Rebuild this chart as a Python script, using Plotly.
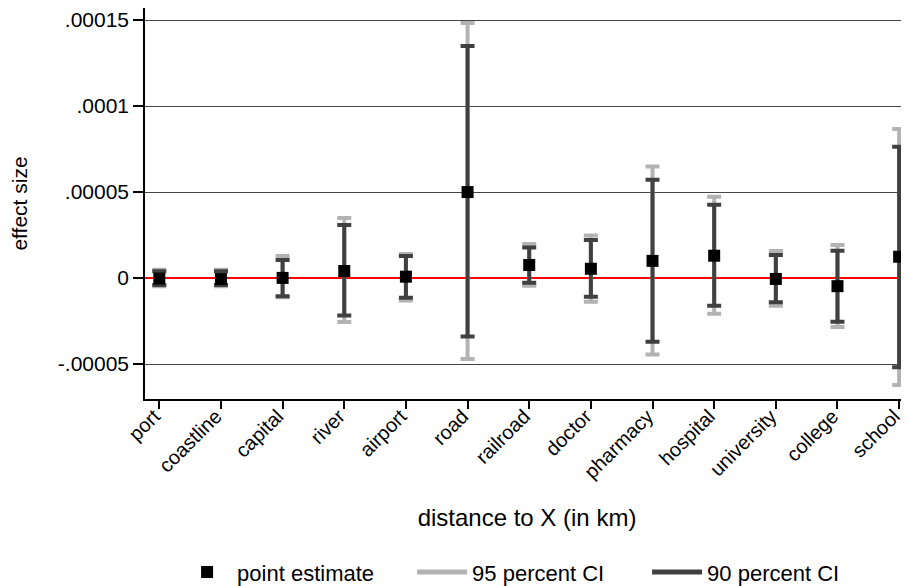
import plotly.graph_objects as go

categories = ["port", "coastline", "capital", "river", "airport", "road", "railroad",
              "doctor", "pharmacy", "hospital", "university", "college", "school"]
point_est = [-0.3e-6, -0.6e-6, 0.1e-6, 4.1e-6, 0.8e-6, 5.0e-5, 7.6e-6,
             5.4e-6, 1.0e-5, 1.3e-5, -0.5e-6, -4.7e-6, 1.24e-5]
ci95_lo = [-4.8e-6, -4.8e-6, -1.12e-5, -2.56e-5, -1.3e-5, -4.71e-5, -4.5e-6,
           -1.38e-5, -4.44e-5, -2.07e-5, -1.61e-5, -2.85e-5, -6.22e-5]
ci95_hi = [4.8e-6, 4.8e-6, 1.28e-5, 3.49e-5, 1.4e-5, 1.483e-4, 1.98e-5,
           2.48e-5, 6.49e-5, 4.73e-5, 1.57e-5, 1.92e-5, 8.66e-5]
ci90_lo = [-4.0e-6, -4.0e-6, -1.05e-5, -2.17e-5, -1.14e-5, -3.39e-5, -2.7e-6,
           -1.09e-5, -3.7e-5, -1.61e-5, -1.41e-5, -2.54e-5, -5.19e-5]
ci90_hi = [4.0e-6, 4.0e-6, 1.05e-5, 3.08e-5, 1.28e-5, 1.349e-4, 1.78e-5,
           2.21e-5, 5.72e-5, 4.26e-5, 1.34e-5, 1.59e-5, 7.64e-5]
ytick_vals = [-0.00005, 0, 0.00005, 0.0001, 0.00015]
ytick_text = ["-.00005", "0", ".00005", ".0001", ".00015"]

C95 = "#b3b3b3"
C90 = "#404040"
FONT = "Liberation Sans, Arial, sans-serif"

fig = go.Figure()


def err(hi, lo):
    up = [h - p for h, p in zip(hi, point_est)]
    dn = [p - l for p, l in zip(point_est, lo)]
    return up, dn


up95, dn95 = err(ci95_hi, ci95_lo)
up90, dn90 = err(ci90_hi, ci90_lo)

fig.add_trace(go.Scatter(
    x=categories, y=point_est, mode="markers",
    marker=dict(size=1, color="rgba(0,0,0,0)"),
    error_y=dict(type="data", symmetric=False, array=up95, arrayminus=dn95,
                 color=C95, thickness=4, width=7),
    showlegend=False, hoverinfo="skip"))
fig.add_trace(go.Scatter(
    x=categories, y=point_est, mode="markers",
    marker=dict(size=1, color="rgba(0,0,0,0)"),
    error_y=dict(type="data", symmetric=False, array=up90, arrayminus=dn90,
                 color=C90, thickness=4, width=7),
    showlegend=False, hoverinfo="skip"))
fig.add_trace(go.Scatter(
    x=categories, y=point_est, mode="markers", name="point estimate",
    marker=dict(symbol="square", size=12, color="black"),
    legendrank=1))
fig.add_trace(go.Scatter(
    x=[None], y=[None], mode="lines", name="95 percent CI",
    line=dict(color=C95, width=5), legendrank=2))
fig.add_trace(go.Scatter(
    x=[None], y=[None], mode="lines", name="90 percent CI",
    line=dict(color=C90, width=5), legendrank=3))

# The page places the figure 8px in from the top-left corner, so the figure
# is sized 8px smaller to fill the 909x586 window.
fig.update_layout(
    width=901, height=578,
    margin=dict(l=137, r=0, t=0, b=187),
    paper_bgcolor="white", plot_bgcolor="white",
    font=dict(family=FONT, size=21, color="black"),
    showlegend=True,
    legend=dict(orientation="h", x=0.042, xanchor="left", xref="paper",
                y=0.024, yanchor="middle", yref="container",
                font=dict(size=22), entrywidth=170, entrywidthmode="pixels",
                itemwidth=50, tracegroupgap=0),
    xaxis=dict(
        type="category", categoryorder="array", categoryarray=categories,
        range=[-0.232, 12.16], automargin=False,
        showline=True, linecolor="black", linewidth=1.5,
        ticks="outside", ticklen=8, tickcolor="black", tickwidth=1.5,
        tickangle=-45, tickfont=dict(size=20), ticklabelstandoff=-12,
        ticklabelshift=-5,
        showgrid=False, zeroline=False,
        title=dict(text="distance to X (in km)", font=dict(size=24), standoff=27),
    ),
    yaxis=dict(
        range=[-0.0000703, 0.000157], automargin=False,
        tickvals=ytick_vals, ticktext=ytick_text,
        showline=True, linecolor="black", linewidth=1.5,
        ticks="outside", ticklen=10, tickcolor="black", tickwidth=1.5,
        tickfont=dict(size=21),
        showgrid=True, gridcolor="#444444", gridwidth=1,
        zeroline=True, zerolinecolor="#ff0000", zerolinewidth=2,
        title=dict(text="effect size", font=dict(size=21), standoff=40),
    ),
)

fig.write_html("out.html")
